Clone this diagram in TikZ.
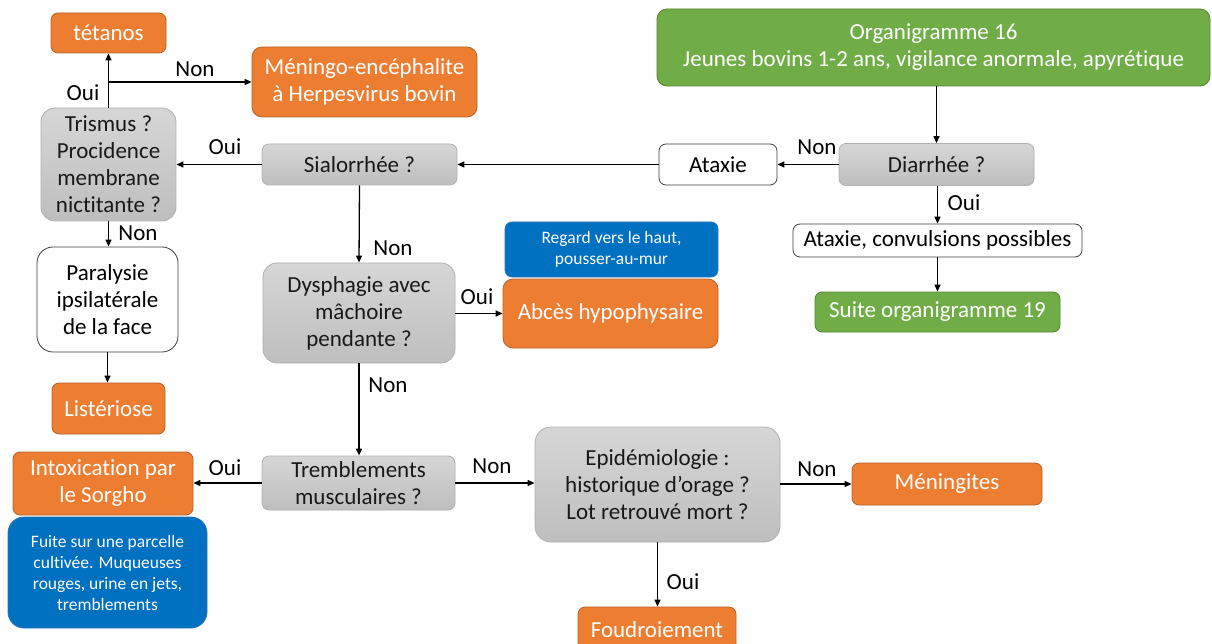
\documentclass[tikz,border=0pt]{standalone}
\usepackage{fontspec}
\setmainfont[Ligatures=NoCommon]{Carlito}
\usetikzlibrary{arrows.meta}

\definecolor{orfill}{HTML}{ED7D31}
\definecolor{ordraw}{HTML}{B5622A}
\definecolor{grfill}{HTML}{70AD47}
\definecolor{grdraw}{HTML}{548235}
\definecolor{blfill}{HTML}{0070C0}
\definecolor{bldraw}{HTML}{2E75B6}
\definecolor{gytop}{HTML}{D6D6D6}
\definecolor{gybot}{HTML}{BEBEBE}
\definecolor{gydraw}{HTML}{B0B0B0}
\definecolor{whdraw}{HTML}{404040}

\tikzset{
  box/.style={rectangle, rounded corners=7pt, align=center, inner sep=0pt,
    line width=0.8pt, font=\fontsize{23}{27}\selectfont},
  orbox/.style={box, fill=orfill, draw=ordraw, text=white},
  grbox/.style={box, fill=grfill, draw=grdraw, text=white},
  blbox/.style={box, fill=blfill, draw=bldraw, text=white,
    font=\fontsize{17.5}{21}\selectfont},
  gybox/.style={box, top color=gytop, bottom color=gybot, draw=gydraw, text=black!90},
  whbox/.style={box, fill=white, draw=whdraw, text=black},
  sz/.style 2 args={minimum width=#1pt, minimum height=#2pt},
  lbl/.style={inner sep=0pt, font=\fontsize{23}{27}\selectfont, text=black},
  arr/.style={draw=black, line width=1.3pt, -{Triangle[length=7pt,width=6pt]}},
}

\begin{document}
\begin{tikzpicture}[x=1pt, y=-1pt]
\useasboundingbox (0,0) rectangle (1212,644);
\fill[white] (0,0) rectangle (1212,644);
\clip (0,0) rectangle (1212,644);

% top of the chart
\node[grbox, sz={553}{77}, rounded corners=10pt] (org) at (933.5,47.5)
  {Organigramme 16\\Jeunes bovins 1-2 ans, vigilance anormale, apyrétique};
\node[gybox, sz={195}{42}] (dia) at (936.5,164.5) {Diarrhée ?};
\node[whbox, sz={118}{41}] (atx) at (718,164.5) {Ataxie};
\node[whbox, sz={289}{33}] (acp) at (937.5,240.5) {Ataxie, convulsions possibles};
\node[grbox, sz={245}{40}] (suite) at (937.5,312) {Suite organigramme 19};

% left branch
\node[gybox, sz={195}{41}] (sia) at (359.5,164.5) {Sialorrhée ?};
\node[gybox, sz={135}{113}, rounded corners=14pt] (tri) at (108.5,164.5)
  {Trismus ?\\Procidence\\membrane\\nictitante ?};
\node[orbox, sz={115}{40}] (tet) at (108.5,33) {tétanos};
\node[orbox, sz={225}{70}, rounded corners=10pt] (men) at (364.5,82)
  {Méningo-encéphalite\\à Herpesvirus bovin};
\node[whbox, sz={141}{105}, rounded corners=16pt] (par) at (107.5,299.5)
  {Paralysie\\ipsilatérale\\de la face};
\node[orbox, sz={113}{51}] (lis) at (108.5,408.5) {Listériose};

% middle column
\node[gybox, sz={192}{100}, rounded corners=14pt] (dys) at (359,313)
  {Dysphagie avec\\mâchoire\\pendante ?};
\node[blbox, sz={213}{55}] (reg) at (611.5,249.5) {Regard vers le haut,\\pousser-au-mur};
\node[orbox, sz={215}{69}, rounded corners=10pt] (abc) at (610.5,313.5) {Abcès hypophysaire};
\node[gybox, sz={193}{54}] (tre) at (358.5,483) {Tremblements\\musculaires ?};
\node[orbox, sz={180}{63}] (int) at (103,483.5) {Intoxication par\\le Sorgho};
\node[blbox, sz={199}{111}, rounded corners=16pt] (fui) at (107.5,572.5)
  {Fuite sur une parcelle\\cultivée. Muqueuses\\rouges, urine en jets,\\tremblements};
\node[gybox, sz={245}{115}, rounded corners=16pt] (epi) at (657.5,484.5)
  {Epidémiologie :\\historique d’orage ?\\Lot retrouvé mort ?};
\node[orbox, sz={190}{42}] (mng) at (947,484) {Méningites};
\node[orbox, sz={158}{45}] (fou) at (657,629.5) {Foudroiement};

% connectors
\draw[arr] (dia.north |- org.south) -- (dia.north);
\draw[arr] (dia.west) -- (atx.east);
\draw[arr] (acp.north |- dia.south) -- (acp.north);
\draw[arr] (acp.south) -- (acp.south |- suite.north);
\draw[arr] (atx.west) -- (sia.east);
\draw[arr] (sia.west) -- (sia.west -| tri.east);
\draw[arr] (sia.south) -- (dys.north);
\draw[arr] (dys.east |- abc.west) -- (abc.west);
\draw[arr] (dys.south) -- (dys.south |- tre.north);
\draw[arr] (tre.west) -- (tre.west -| int.east);
\draw[arr] (tre.east) -- (tre.east -| epi.west);
\draw[arr] (epi.east |- mng.west) -- (mng.west);
\draw[arr] (epi.south) -- (epi.south |- fou.north);
\draw[arr] (tri.north) -- (tet.south);
\coordinate (br) at (tri.north |- men.west);
\draw[arr] (br) -- (men.west);
\draw[arr] (tri.south) -- (tri.south |- par.north);
\draw[arr] (par.south) -- (par.south |- lis.north);

% branch labels
\node[lbl] (l1) at (817,147) {Non};
\node[lbl] (l2) at (964,203) {Oui};
\node[lbl] (l3) at (225,147) {Oui};
\node[lbl] (l4) at (393,248) {Non};
\node[lbl] (l5) at (477,297) {Oui};
\node[lbl] (l6) at (388,385) {Non};
\node[lbl] (l7) at (225,468) {Oui};
\node[lbl] (l8) at (492,466) {Non};
\node[lbl] (l9) at (817,469) {Non};
\node[lbl] (l10) at (683,582) {Oui};
\node[lbl] (l11) at (83,93) {Oui};
\node[lbl] (l12) at (195,69) {Non};
\node[lbl] (l13) at (138,233) {Non};
\end{tikzpicture}
\end{document}
